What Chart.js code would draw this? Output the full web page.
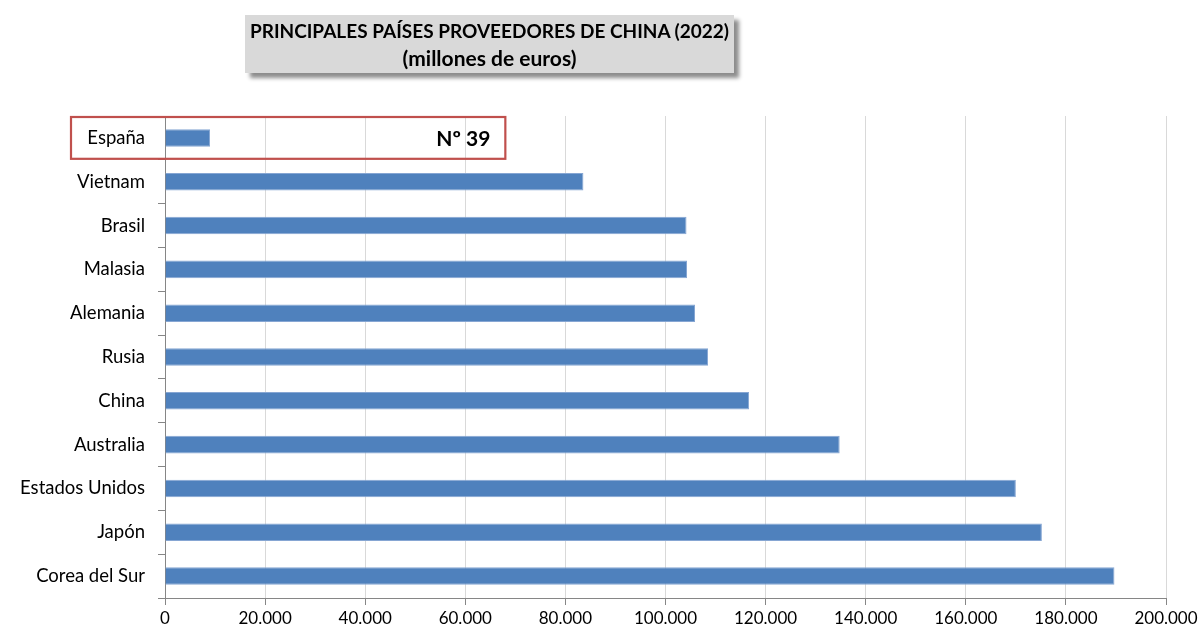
<!DOCTYPE html>
<html>
<head>
<meta charset="utf-8">
<script src="https://cdn.jsdelivr.net/npm/chart.js@4/dist/chart.umd.min.js"></script>
<style>
  html, body { margin: 0; padding: 0; background: #ffffff; }
  #wrap { position: relative; width: 1202px; height: 637px; }
  #title {
    position: absolute; left: 245px; top: 15px; width: 489px; height: 58px;
    background: #d9d9d9; box-shadow: 5px 5px 4px rgba(0,0,0,0.45);
    font-family: Lato, "Open Sans", sans-serif; font-weight: bold; font-size: 19px;
    color: #000; text-align: center; line-height: 27px; padding-top: 2px; box-sizing: border-box;
    white-space: nowrap;
  }
  #title .sub { font-size: 21px; }
</style>
</head>
<body>
<div id="wrap">
  <canvas id="c" width="1202" height="637"></canvas>
  <div id="title">PRINCIPALES PAÍSES PROVEEDORES DE CHINA (2022)<br><span class="sub">(millones de euros)</span></div>
</div>
<script>
const categories = ["España", "Vietnam", "Brasil", "Malasia", "Alemania", "Rusia", "China", "Australia", "Estados Unidos", "Japón", "Corea del Sur"];
const values = [9000, 83600, 104200, 104300, 105900, 108500, 116700, 134800, 170000, 175200, 189700];
const xTicks = [0, 20000, 40000, 60000, 80000, 100000, 120000, 140000, 160000, 180000, 200000];
const highlightLabel = "Nº 39";
const highlightCategory = "España";
const highlightRight = 68000;
const highlightTextRight = 65000;

function fmt(v) {
  return String(Math.round(v)).replace(/\B(?=(\d{3})+(?!\d))/g, ".");
}

const highlightPlugin = {
  id: 'highlight',
  afterDatasetsDraw(chart) {
    const ctx = chart.ctx;
    const xs = chart.scales.x, ys = chart.scales.y;
    const idx = categories.indexOf(highlightCategory);
    const yc = ys.getPixelForValue(idx);
    const half = (ys.getPixelForValue(1) - ys.getPixelForValue(0)) / 2;
    const left = 71;
    const right = xs.getPixelForValue(highlightRight);
    ctx.save();
    ctx.strokeStyle = '#c0504d';
    ctx.lineWidth = 2.2;
    ctx.strokeRect(left, yc - half + 1, right - left, 2 * half - 2);
    ctx.fillStyle = '#000';
    ctx.font = 'bold 21px Lato, "Open Sans", sans-serif';
    ctx.textAlign = 'right';
    ctx.textBaseline = 'middle';
    ctx.fillText(highlightLabel, xs.getPixelForValue(highlightTextRight), yc + 1);
    ctx.restore();
  }
};

new Chart(document.getElementById('c'), {
  type: 'bar',
  data: {
    labels: categories,
    datasets: [{
      data: values,
      backgroundColor: '#4f81bd',
      borderColor: '#86a6d3',
      borderWidth: 1,
      barPercentage: 0.4,
      categoryPercentage: 1.0
    }]
  },
  options: {
    indexAxis: 'y',
    responsive: false,
    animation: false,
    layout: { padding: { top: 116, right: 36, left: 0, bottom: 0 } },
    plugins: { legend: { display: false }, tooltip: { enabled: false }, title: { display: false } },
    scales: {
      x: {
        min: 0, max: 200000,
        afterBuildTicks: s => { s.ticks = xTicks.map(v => ({ value: v })); },
        afterFit: s => { s.height = 39; },
        grid: { color: '#d9d9d9', lineWidth: 1, drawTicks: true, tickLength: 7, tickColor: '#868686' },
        border: { color: '#868686', width: 1 },
        ticks: {
          callback: v => fmt(v),
          color: '#000',
          padding: 3,
          maxRotation: 0,
          font: { family: 'Lato, "Open Sans", sans-serif', size: 17 }
        }
      },
      y: {
        afterFit: s => { s.width = 165; },
        grid: { display: true, drawOnChartArea: false, drawTicks: true, tickLength: 7, tickColor: '#868686', offset: true },
        border: { color: '#868686', width: 1 },
        ticks: {
          color: '#000',
          padding: 13,
          font: { family: 'Lato, "Open Sans", sans-serif', size: 18.5 }
        }
      }
    }
  },
  plugins: [highlightPlugin]
});
</script>
</body>
</html>
